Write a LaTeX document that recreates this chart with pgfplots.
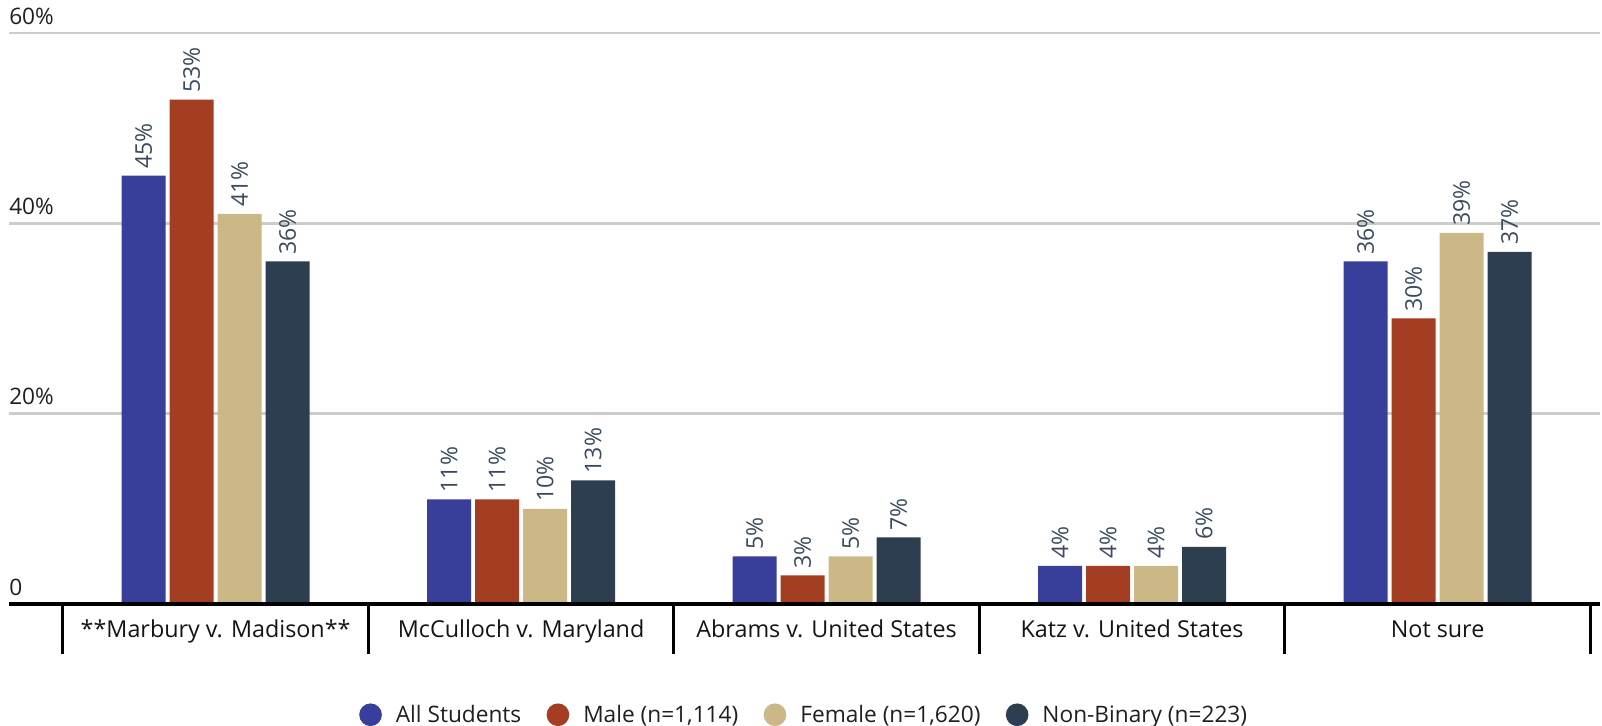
\documentclass[border=0pt]{standalone}
\usepackage{fontspec}
\setmainfont{Open Sans}
\usepackage{pgfplots}
\pgfplotsset{compat=1.18}
\definecolor{cBlue}{HTML}{373F9B}
\definecolor{cRed}{HTML}{A33E22}
\definecolor{cTan}{HTML}{CBB886}
\definecolor{cDark}{HTML}{2D3E50}
\definecolor{cGrid}{HTML}{CCCCCC}
\definecolor{cVal}{HTML}{3A4A5C}
\begin{document}
\begin{tikzpicture}[font=\fontsize{17}{20}\selectfont]
\begin{axis}[
  scale only axis, width=1193.25pt, height=428.25pt,
  xmin=-0.6763, xmax=4.5316, ymin=0, ymax=60,
  ybar, bar width=0.144,
  axis x line*=bottom, axis y line*=left,
  y axis line style={draw=none},
  x axis line style={line width=3pt, black, -},
  ytick={0,20,40,60}, yticklabels={0,20\%,40\%,60\%},
  ymajorgrids, grid style={cGrid, line width=2pt},
  ytick style={draw=none},
  major tick length=0pt,
  yticklabel style={anchor=base west, inner sep=0pt, yshift=6.5pt, text=black!88},
  xtick={0,1,2,3,4},
  xticklabels={**Marbury v. Madison**, McCulloch v. Maryland, Abrams v. United States, Katz v. United States, Not sure},
  xticklabel style={anchor=base, inner sep=0pt, yshift=-25.5pt, text=black!92, font=\fontsize{17.5}{20}\selectfont},
  extra x ticks={-0.5,0.5,1.5,2.5,3.5,4.5},
  extra x tick labels={},
  extra x tick style={tick align=outside, major tick length=37.5pt, tick style={line width=2.25pt, black}},
  nodes near coords,
  nodes near coords align=horizontal,
  every node near coord/.append style={rotate=90, inner xsep=5pt, inner ysep=0pt, text=cVal, font=\fontsize{17.3}{20}\selectfont},
  /pgf/number format/assume math mode=true,
  clip=false,
  legend columns=4,
  legend style={at={(0.5,-0.194)}, anchor=center, draw=none, fill=none, font=\fontsize{17}{20}\selectfont, text=black!88,
    /tikz/every odd column/.append style={column sep=8.5pt},
    /tikz/every even column/.append style={column sep=17pt}},
  legend image code/.code={\fill[#1] (4pt,0pt) circle (8.5pt);},
]
\addplot[fill=cBlue, draw=none, bar shift=-0.2356, nodes near coords={\pgfmathprintnumber{\pgfplotspointmeta}\%}] coordinates {(0,45) (1,11) (2,5) (3,4) (4,36)};
\addplot[fill=cRed, draw=none, bar shift=-0.0785, nodes near coords={\pgfmathprintnumber{\pgfplotspointmeta}\%}] coordinates {(0,53) (1,11) (2,3) (3,4) (4,30)};
\addplot[fill=cTan, draw=none, bar shift=0.0785, nodes near coords={\pgfmathprintnumber{\pgfplotspointmeta}\%}] coordinates {(0,41) (1,10) (2,5) (3,4) (4,39)};
\addplot[fill=cDark, draw=none, bar shift=0.2356, nodes near coords={\pgfmathprintnumber{\pgfplotspointmeta}\%}] coordinates {(0,36) (1,13) (2,7) (3,6) (4,37)};
\legend{All Students, {Male (n=1,114)}, {Female (n=1,620)}, {Non-Binary (n=223)}}
\draw[line width=3pt] (rel axis cs:0,0) -- (rel axis cs:1,0);
\coordinate (ll) at (rel axis cs:0,0);
\coordinate (ur) at (rel axis cs:1,1);
\end{axis}
\pgfresetboundingbox
\path[use as bounding box] ([shift={(-6.75pt,-91.5pt)}]ll) rectangle ([shift={(1.5pt,24.75pt)}]ur);
\end{tikzpicture}
\end{document}
